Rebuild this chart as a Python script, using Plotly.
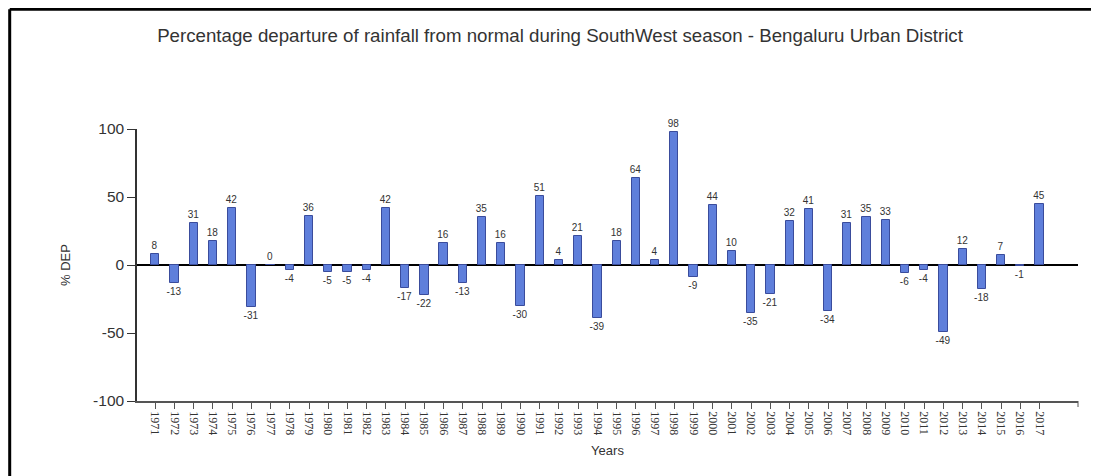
import plotly.graph_objects as go

years = list(range(1971, 2018))
dep = [8, -13, 31, 18, 42, -31, 0, -4, 36, -5, -5, -4, 42, -17, -22, 16, -13, 35, 16, -30,
       51, 4, 21, -39, 18, 64, 4, 98, -9, 44, 10, -35, -21, 32, 41, -34, 31, 35, 33, -6,
       -4, -49, 12, -18, 7, -1, 45]
tick_labels = [str(y) for y in years]
y_ticks = [-100, -50, 0, 50, 100]
y_tick_text = ["-100", "-50", "0", "50", "100"]

# the page body adds an 8px offset; work in screen pixels and subtract it
OFF = 8
W, H = 1099 - OFF, 476 - OFF
L, R, T, B = 137 - OFF, 21, 129 - OFF, 75
pw, ph = W - L - R, H - T - B

fig = go.Figure()
fig.add_trace(go.Bar(
    x=years, y=dep, width=0.43,
    marker=dict(color="#5F7FDB", line=dict(color="#3A4C9C", width=1)),
    text=[str(v) for v in dep], textposition="outside", constraintext="none",
    textfont=dict(family="Arial, Liberation Sans", size=10, color="#333333"),
    cliponaxis=False, hoverinfo="x+y",
))

def px_x(p):
    return (p - OFF - L) / pw

def px_y(p):
    return (H - B - (p - OFF)) / ph

shapes = [
    # outer black frame (top and left visible)
    dict(type="line", xref="paper", yref="paper", x0=px_x(9.7), x1=px_x(1120), y0=px_y(9.2), y1=px_y(9.2),
         line=dict(color="black", width=3)),
    dict(type="line", xref="paper", yref="paper", x0=px_x(9.7), x1=px_x(9.7), y0=px_y(9.2), y1=px_y(500),
         line=dict(color="black", width=3)),
    # right end tick of x axis
    dict(type="line", xref="paper", yref="paper", x0=1, x1=1, y0=0, y1=-6 / ph,
         line=dict(color="#555555", width=1)),
]

fig.update_layout(
    width=W, height=H,
    margin=dict(l=L, r=R, t=T, b=B, autoexpand=False),
    paper_bgcolor="white", plot_bgcolor="white",
    showlegend=False, bargap=0,
    shapes=shapes,
    title=dict(text="Percentage departure of rainfall from normal during SouthWest season - Bengaluru Urban District",
               x=(560 - OFF) / W, xanchor="center", y=1 - (35 - OFF) / H, yanchor="middle", yref="container",
               font=dict(family="Arial, Liberation Sans", size=18.7, color="#333333")),
    xaxis=dict(
        range=[1970.05, 2019.0], tickmode="array", tickvals=years, ticktext=tick_labels,
        tickangle=90, ticks="outside", ticklen=6, tickcolor="#555555",
        showline=True, linecolor="#555555", linewidth=1.5, showgrid=False, zeroline=False,
        tickfont=dict(family="Liberation Serif, Times New Roman", size=12, color="#333333"),
        title=dict(text="Years", standoff=12,
                   font=dict(family="Arial, Liberation Sans", size=13, color="#333333")),
    ),
    yaxis=dict(
        range=[-100, 100], tickmode="array", tickvals=y_ticks, ticktext=y_tick_text,
        ticks="outside", ticklen=8, tickcolor="#333333",
        showline=True, linecolor="#333333", linewidth=1.5, showgrid=False,
        zeroline=True, zerolinecolor="black", zerolinewidth=1.5,
        tickfont=dict(family="Arial, Liberation Sans", size=15.5, color="#333333"),
        title=dict(text="% DEP", standoff=20,
                   font=dict(family="Arial, Liberation Sans", size=13, color="#333333")),
    ),
)

fig.write_html("out.html")
